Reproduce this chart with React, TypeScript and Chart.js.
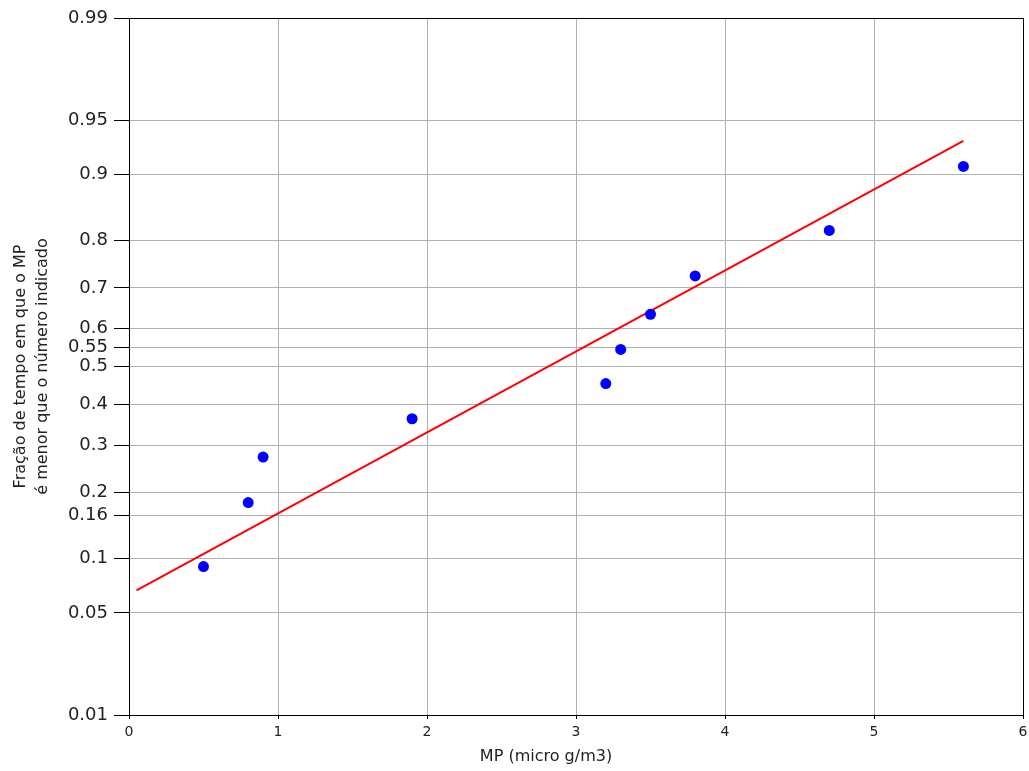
import React, { useEffect, useRef } from "react";
import { Chart, registerables } from "chart.js";

Chart.register(...registerables);

// Data (normal probability plot)
const mpValues = [0.5, 0.8, 0.9, 1.9, 3.2, 3.3, 3.5, 3.8, 4.7, 5.6];
const fractions = [0.0909, 0.1818, 0.2727, 0.3636, 0.4545, 0.5455, 0.6364, 0.7273, 0.8182, 0.9091];
const fitX = [0.05, 5.6];
const fitFractions = [0.0675, 0.934];
const yTickLabels = [0.01, 0.05, 0.1, 0.16, 0.2, 0.3, 0.4, 0.5, 0.55, 0.6, 0.7, 0.8, 0.9, 0.95, 0.99];
const xTitle = "MP (micro g/m3)";
const yTitle = ["Fração de tempo em que o MP", "é menor que o número indicado"];

// Inverse standard normal CDF (Acklam)
function probit(p: number): number {
  const a = [-3.969683028665376e1, 2.209460984245205e2, -2.759285104469687e2, 1.38357751867269e2, -3.066479806614716e1, 2.506628277459239];
  const b = [-5.447609879822406e1, 1.615858368580409e2, -1.556989798598866e2, 6.680131188771972e1, -1.328068155288572e1];
  const c = [-7.784894002430293e-3, -3.223964580411365e-1, -2.400758277161838, -2.549732539343734, 4.374664141464968, 2.938163982698783];
  const d = [7.784695709041462e-3, 3.224671290700398e-1, 2.445134137142996, 3.754408661907416];
  const pLow = 0.02425;
  const pHigh = 1 - pLow;
  let q: number, r: number;
  if (p < pLow) {
    q = Math.sqrt(-2 * Math.log(p));
    return (((((c[0] * q + c[1]) * q + c[2]) * q + c[3]) * q + c[4]) * q + c[5]) /
      ((((d[0] * q + d[1]) * q + d[2]) * q + d[3]) * q + 1);
  } else if (p <= pHigh) {
    q = p - 0.5;
    r = q * q;
    return (((((a[0] * r + a[1]) * r + a[2]) * r + a[3]) * r + a[4]) * r + a[5]) * q /
      (((((b[0] * r + b[1]) * r + b[2]) * r + b[3]) * r + b[4]) * r + 1);
  } else {
    q = Math.sqrt(-2 * Math.log(1 - p));
    return -(((((c[0] * q + c[1]) * q + c[2]) * q + c[3]) * q + c[4]) * q + c[5]) /
      ((((d[0] * q + d[1]) * q + d[2]) * q + d[3]) * q + 1);
  }
}

const FONT = "'DejaVu Sans', sans-serif";

export default function App() {
  const canvasRef = useRef<HTMLCanvasElement | null>(null);

  useEffect(() => {
    if (!canvasRef.current) return;

    const framePlugin = {
      id: "frameAndTitle",
      afterDraw(chart: any) {
        const { ctx, chartArea } = chart;
        ctx.save();
        ctx.strokeStyle = "#000000";
        ctx.lineWidth = 1;
        ctx.strokeRect(
          Math.round(chartArea.left) + 0.5,
          Math.round(chartArea.top) + 0.5,
          Math.round(chartArea.right - chartArea.left),
          Math.round(chartArea.bottom - chartArea.top)
        );
        ctx.fillStyle = "#222222";
        ctx.font = `16px ${FONT}`;
        ctx.textAlign = "center";
        ctx.textBaseline = "middle";
        const cx = (chartArea.left + chartArea.right) / 2 - 30;
        ctx.fillText(xTitle, cx, chartArea.bottom + 42);
        ctx.restore();
      },
    };

    const chart = new Chart(canvasRef.current, {
      type: "scatter",
      data: {
        datasets: [
          {
            type: "line",
            label: "fit",
            data: fitX.map((x, i) => ({ x, y: probit(fitFractions[i]) })),
            borderColor: "#ff0000",
            borderWidth: 2,
            pointRadius: 0,
            fill: false,
            order: 1,
          } as any,
          {
            label: "obs",
            data: mpValues.map((x, i) => ({ x, y: probit(fractions[i]) })),
            backgroundColor: "#0000ff",
            borderColor: "#0000ff",
            pointRadius: 5.5,
            pointBorderWidth: 0,
            order: 0,
          },
        ],
      },
      options: {
        animation: false,
        responsive: false,
        layout: { padding: { top: 18, right: 6, left: 0, bottom: 0 } },
        plugins: {
          legend: { display: false },
          tooltip: { enabled: false },
        },
        scales: {
          x: {
            type: "linear",
            min: 0,
            max: 6,
            ticks: {
              stepSize: 1,
              color: "#222222",
              font: { family: FONT, size: 14 },
              padding: 5,
            },
            grid: {
              color: "#b0b0b0",
              tickColor: "#000000",
              tickLength: 4,
              lineWidth: 1,
            },
            border: { display: true, color: "#000000", width: 1 },
            afterFit(scale: any) {
              scale.height = 56;
              scale.paddingRight = 0;
              scale.paddingLeft = 0;
            },
          },
          y: {
            type: "linear",
            min: probit(0.01),
            max: probit(0.99),
            afterBuildTicks(scale: any) {
              scale.ticks = yTickLabels.map((p) => ({ value: probit(p) }));
            },
            ticks: {
              color: "#222222",
              font: { family: FONT, size: 18 },
              padding: 6,
              autoSkip: false,
              callback: (_v: any, index: number) => String(yTickLabels[index]),
            },
            grid: {
              color: "#b0b0b0",
              tickColor: "#000000",
              tickLength: 15,
              lineWidth: 1,
            },
            border: { display: true, color: "#000000", width: 1 },
            title: {
              display: true,
              text: yTitle,
              color: "#222222",
              font: { family: FONT, size: 16, lineHeight: 1.35 },
              padding: { top: 10, bottom: 0 },
            },
            afterFit(scale: any) {
              scale.width = 129;
            },
          },
        },
      },
      plugins: [framePlugin],
    });

    return () => chart.destroy();
  }, []);

  return (
    <div style={{ position: "absolute", left: 0, top: 0, width: 1029, height: 771, background: "#ffffff" }}>
      <canvas ref={canvasRef} width={1029} height={771} />
    </div>
  );
}
